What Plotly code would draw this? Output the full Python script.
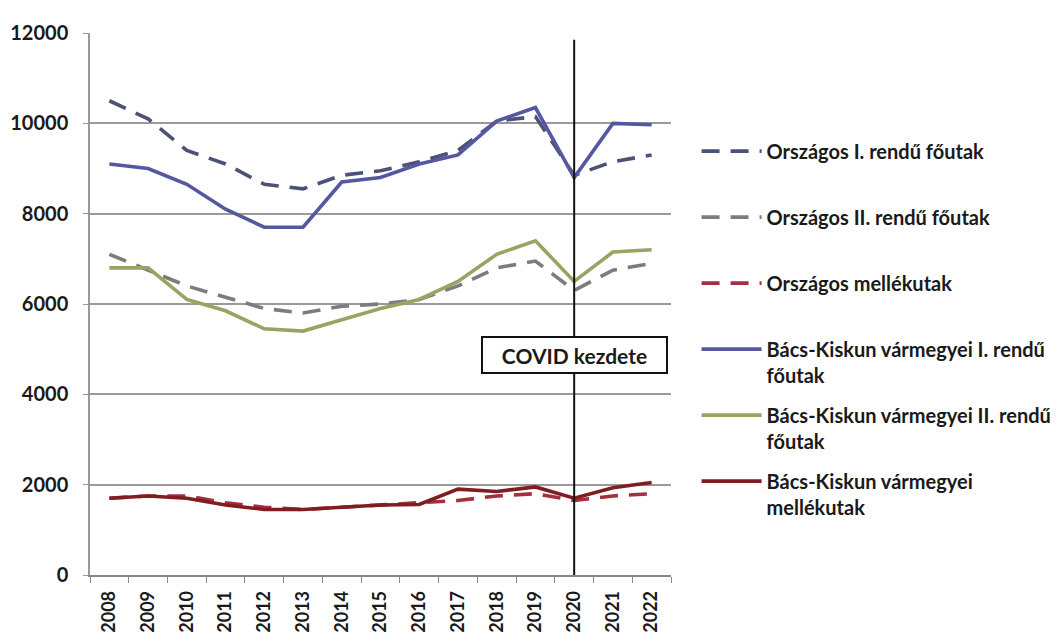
import plotly.graph_objects as go

years = [str(y) for y in range(2008, 2023)]

orszagos_I = [10500, 10100, 9400, 9100, 8650, 8550, 8850, 8950, 9150, 9400, 10050, 10150, 8850, 9150, 9300]
orszagos_II = [7100, 6750, 6400, 6150, 5900, 5800, 5950, 6000, 6100, 6400, 6800, 6950, 6300, 6750, 6900]
orszagos_mellek = [1700, 1750, 1750, 1600, 1500, 1450, 1500, 1550, 1600, 1650, 1750, 1800, 1650, 1750, 1800]
bk_I = [9100, 9000, 8650, 8100, 7700, 7700, 8700, 8800, 9100, 9300, 10050, 10350, 8800, 10000, 9970]
bk_II = [6800, 6800, 6100, 5850, 5450, 5400, 5650, 5900, 6100, 6500, 7100, 7400, 6500, 7150, 7200]
bk_mellek = [1700, 1750, 1700, 1550, 1450, 1450, 1500, 1550, 1560, 1900, 1850, 1950, 1700, 1930, 2050]

series = [
    ("Országos I. rendű főutak<br> ", orszagos_I, "#4b5177", "18px,11px"),
    ("Országos II. rendű főutak<br> ", orszagos_II, "#7c7c7c", "18px,11px"),
    ("Országos mellékutak<br> ", orszagos_mellek, "#a3303e", "18px,11px"),
    ("Bács-Kiskun vármegyei I. rendű<br>főutak", bk_I, "#5558a0", "solid"),
    ("Bács-Kiskun vármegyei II. rendű<br>főutak", bk_II, "#9da263", "solid"),
    ("Bács-Kiskun vármegyei<br>mellékutak", bk_mellek, "#7f1d22", "solid"),
]

fig = go.Figure()
for i, (name, vals, color, dash) in enumerate(series):
    fig.add_trace(go.Scatter(
        x=years, y=vals, name=name, mode="lines",
        line=dict(color=color, width=3.6, dash=dash),
        legendgroup=f"g{i}",
    ))

covid_year = "2020"
covid_idx = years.index(covid_year)
fig.add_shape(type="line", xref="x", yref="y", x0=covid_idx, x1=covid_idx,
              y0=0, y1=11850, line=dict(color="#111111", width=2))

fig.add_annotation(x=covid_idx, y=4860, xref="x", yref="y", text="COVID kezdete",
                   showarrow=False,
                   font=dict(family="Lato", size=21, color="#1a1a1a", weight="bold"),
                   bgcolor="white", bordercolor="#111111", borderwidth=2,
                   width=181, height=32)

fig.update_layout(
    width=1061, height=641,
    margin=dict(l=82, r=392, t=25, b=74),
    paper_bgcolor="white", plot_bgcolor="white",
    font=dict(family="Lato", color="#1a1a1a", weight="bold"),
    showlegend=True,
    legend=dict(x=1.044, y=0.818, xanchor="left", yanchor="top",
                font=dict(family="Lato", size=20, color="#1a1a1a", weight="bold"),
                tracegroupgap=11, valign="top", bgcolor="rgba(0,0,0,0)",
                itemwidth=60),
)
fig.update_xaxes(
    type="category", range=[-0.5, len(years) - 0.5], automargin=False,
    showgrid=False, showline=True, linecolor="#888888", linewidth=1.5,
    ticks="outside", tickson="boundaries", ticklen=6, tickcolor="#888888",
    tickangle=-90, ticklabelstandoff=7,
    tickfont=dict(family="Lato", size=18, color="#1a1a1a", weight="bold"),
)
fig.update_yaxes(
    range=[0, 12000], dtick=2000, tickformat="d", automargin=False,
    showgrid=True, gridcolor="#9a9a9a",
    gridwidth=1.5, showline=True, linecolor="#999999", linewidth=1.5, ticks="outside",
    ticklen=5, tickcolor="#999999", ticklabelstandoff=11,
    tickfont=dict(family="Lato", size=20, color="#1a1a1a", weight="bold"),
    zeroline=False,
)

fig.write_html("out.html")
